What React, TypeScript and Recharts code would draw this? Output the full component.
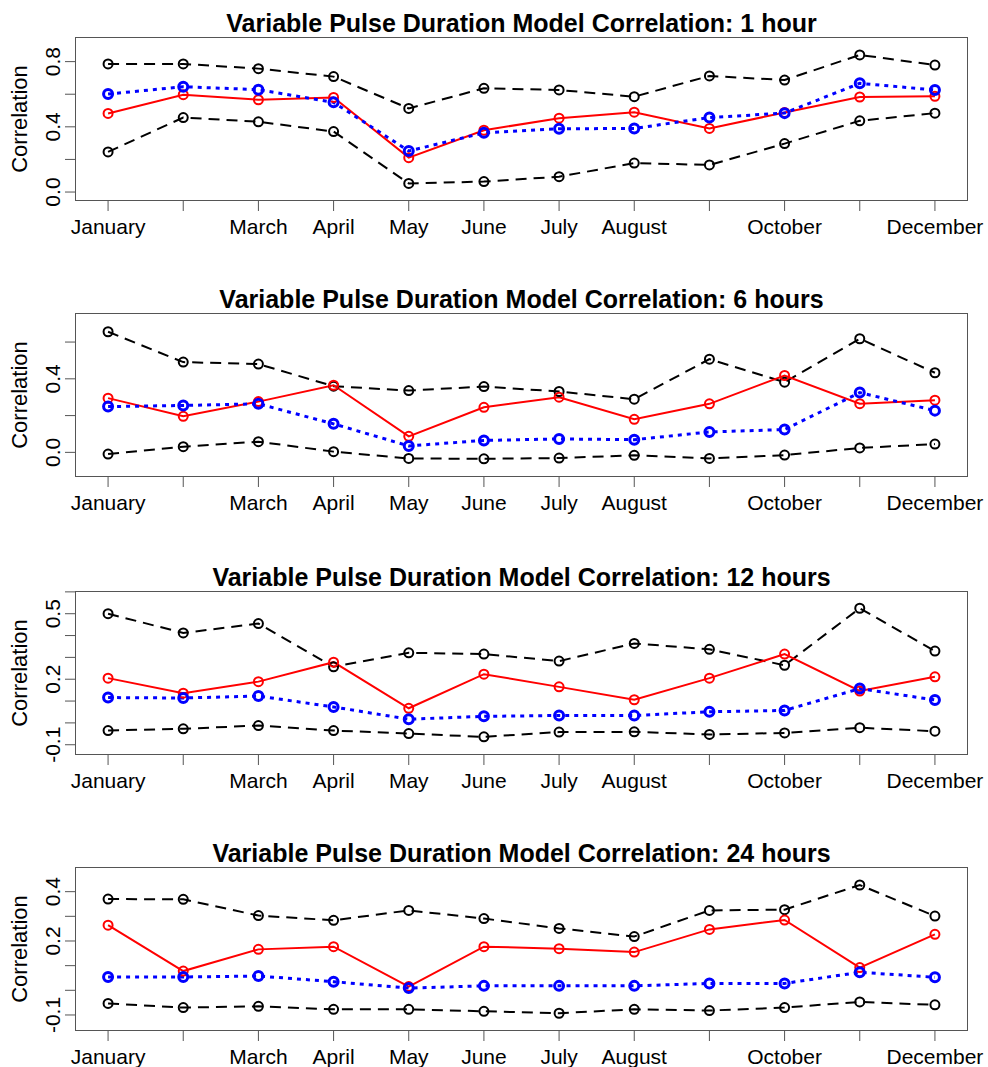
import { LineChart, Line, XAxis, YAxis } from "recharts";

const months = ["January", "February", "March", "April", "May", "June", "July", "August", "September", "October", "November", "December"];
// R drops labels that would overlap
const shownMonths = ["January", "", "March", "April", "May", "June", "July", "August", "", "October", "", "December"];

// 1 hour
const h1Upper = [0.786, 0.786, 0.757, 0.708, 0.513, 0.636, 0.626, 0.585, 0.712, 0.687, 0.841, 0.779];
const h1Lower = [0.246, 0.457, 0.431, 0.371, 0.053, 0.064, 0.094, 0.178, 0.166, 0.297, 0.437, 0.484];
const h1Model = [0.482, 0.597, 0.566, 0.58, 0.211, 0.379, 0.453, 0.49, 0.39, 0.488, 0.583, 0.587];
const h1Mean = [0.601, 0.646, 0.628, 0.55, 0.252, 0.363, 0.388, 0.39, 0.457, 0.484, 0.667, 0.626];

// 6 hours
const h6Upper = [0.656, 0.491, 0.48, 0.36, 0.336, 0.358, 0.331, 0.289, 0.507, 0.382, 0.618, 0.433];
const h6Lower = [-0.009, 0.031, 0.058, 0.004, -0.033, -0.035, -0.031, -0.016, -0.033, -0.015, 0.024, 0.045];
const h6Model = [0.295, 0.196, 0.276, 0.365, 0.087, 0.245, 0.3, 0.18, 0.264, 0.418, 0.265, 0.284];
const h6Mean = [0.249, 0.255, 0.264, 0.155, 0.035, 0.065, 0.073, 0.069, 0.111, 0.124, 0.325, 0.227];

// 12 hours
const h12Upper = [0.5, 0.412, 0.455, 0.257, 0.321, 0.315, 0.283, 0.364, 0.337, 0.264, 0.525, 0.329];
const h12Lower = [-0.035, -0.027, -0.012, -0.035, -0.049, -0.064, -0.042, -0.041, -0.053, -0.046, -0.022, -0.038];
const h12Model = [0.205, 0.136, 0.189, 0.278, 0.067, 0.223, 0.165, 0.106, 0.205, 0.315, 0.146, 0.211];
const h12Mean = [0.116, 0.114, 0.123, 0.073, 0.017, 0.03, 0.034, 0.034, 0.051, 0.057, 0.157, 0.105];

// 24 hours
const h24Upper = [0.37, 0.369, 0.303, 0.284, 0.324, 0.291, 0.251, 0.218, 0.324, 0.327, 0.427, 0.301];
const h24Lower = [-0.053, -0.07, -0.065, -0.077, -0.077, -0.085, -0.093, -0.077, -0.082, -0.07, -0.047, -0.059];
const h24Model = [0.264, 0.078, 0.166, 0.177, 0.015, 0.177, 0.169, 0.155, 0.247, 0.285, 0.092, 0.227];
const h24Mean = [0.054, 0.054, 0.058, 0.035, 0.009, 0.018, 0.018, 0.018, 0.028, 0.028, 0.073, 0.053];

const monthTicks = months.map((_, i) => i + 1);

const FONT = '"Liberation Sans", Arial, Helvetica, sans-serif';
const BOX_LEFT = 75;
const BOX_RIGHT = 968;
const BOX_H = 164;
const TOP_PAD = 37;

interface PanelProps {
  title: string;
  top: number;
  upper: number[];
  lower: number[];
  model: number[];
  mean: number[];
  domain: [number, number];
  ticks: number[];
  labeled: number[];
}

function Panel({ title, top, upper, lower, model, mean, domain, ticks, labeled }: PanelProps) {
  const data = months.map((_, i) => ({
    m: i + 1,
    upper: upper[i],
    lower: lower[i],
    model: model[i],
    mean: mean[i],
  }));

  const YTick = ({ y, payload }: any) => {
    const v = payload.value as number;
    if (!labeled.some((l) => Math.abs(l - v) < 1e-6)) return null;
    return (
      <text
        transform={`translate(60, ${y}) rotate(-90)`}
        textAnchor="middle"
        fontSize={21}
        fontFamily={FONT}
        fill="#000"
      >
        {v.toFixed(1)}
      </text>
    );
  };

  return (
    <div style={{ position: "absolute", left: 0, top, width: 988, height: TOP_PAD + BOX_H + 42 }}>
      <div
        style={{
          position: "absolute",
          left: BOX_LEFT,
          width: BOX_RIGHT - BOX_LEFT,
          top: 11,
          textAlign: "center",
          fontFamily: FONT,
          fontWeight: "bold",
          fontSize: 25,
          lineHeight: "25px",
          whiteSpace: "nowrap",
        }}
      >
        {title}
      </div>
      <div
        style={{
          position: "absolute",
          left: 8,
          top: TOP_PAD + BOX_H / 2 - 60,
          width: 24,
          height: 120,
          display: "flex",
          alignItems: "center",
          justifyContent: "center",
        }}
      >
        <div
          style={{
            transform: "rotate(-90deg)",
            fontFamily: FONT,
            fontSize: 22,
            whiteSpace: "nowrap",
          }}
        >
          Correlation
        </div>
      </div>
      <LineChart
        width={988}
        height={TOP_PAD + BOX_H + 42}
        data={data}
        margin={{ top: TOP_PAD, right: 988 - BOX_RIGHT, bottom: 0, left: BOX_LEFT - 45 }}
      >
        <XAxis
          type="number"
          dataKey="m"
          domain={[0.56, 12.44]}
          ticks={monthTicks}
          tickFormatter={(v: number) => shownMonths[v - 1]}
          interval={0}
          allowDataOverflow
          axisLine={false}
          tickLine={{ stroke: "#555", strokeWidth: 1 }}
          tickSize={10}
          tickMargin={8}
          height={42}
          tick={{ fontSize: 21, fontFamily: FONT, fill: "#000" }}
        />
        <YAxis
          type="number"
          domain={domain}
          ticks={ticks}
          interval={0}
          allowDataOverflow
          axisLine={false}
          tickLine={{ stroke: "#555", strokeWidth: 1 }}
          tickSize={10}
          width={45}
          tick={<YTick />}
        />
        <Line
          dataKey="upper"
          type="linear"
          stroke="#000"
          strokeWidth={2}
          strokeDasharray="11 7"
          dot={{ r: 4.5, stroke: "#000", strokeWidth: 2, fill: "none", strokeDasharray: "" }}
          isAnimationActive={false}
        />
        <Line
          dataKey="lower"
          type="linear"
          stroke="#000"
          strokeWidth={2}
          strokeDasharray="11 7"
          dot={{ r: 4.5, stroke: "#000", strokeWidth: 2, fill: "none", strokeDasharray: "" }}
          isAnimationActive={false}
        />
        <Line
          dataKey="model"
          type="linear"
          stroke="#ff0000"
          strokeWidth={2}
          dot={{ r: 4.5, stroke: "#ff0000", strokeWidth: 2, fill: "none" }}
          isAnimationActive={false}
        />
        <Line
          dataKey="mean"
          type="linear"
          stroke="#0000ff"
          strokeWidth={3}
          strokeDasharray="4 5"
          dot={{ r: 4.5, stroke: "#0000ff", strokeWidth: 3, fill: "none", strokeDasharray: "" }}
          isAnimationActive={false}
        />
      </LineChart>
      <div
        style={{
          position: "absolute",
          left: BOX_LEFT,
          top: TOP_PAD,
          width: BOX_RIGHT - BOX_LEFT,
          height: BOX_H,
          border: "1px solid #555",
          boxSizing: "border-box",
          pointerEvents: "none",
        }}
      />
    </div>
  );
}

export default function App() {
  return (
    <div style={{ position: "absolute", left: 0, top: 0, width: 988, height: 1067, background: "#fff", overflow: "hidden" }}>
      <Panel
        title="Variable Pulse Duration Model Correlation: 1 hour"
        top={0}
        upper={h1Upper}
        lower={h1Lower}
        model={h1Model}
        mean={h1Mean}
        domain={[-0.055, 0.951]}
        ticks={[0, 0.2, 0.4, 0.6, 0.8]}
        labeled={[0, 0.4, 0.8]}
      />
      <Panel
        title="Variable Pulse Duration Model Correlation: 6 hours"
        top={276}
        upper={h6Upper}
        lower={h6Lower}
        model={h6Model}
        mean={h6Mean}
        domain={[-0.134, 0.758]}
        ticks={[0, 0.2, 0.4, 0.6]}
        labeled={[0, 0.4]}
      />
      <Panel
        title="Variable Pulse Duration Model Correlation: 12 hours"
        top={554}
        upper={h12Upper}
        lower={h12Lower}
        model={h12Model}
        mean={h12Mean}
        domain={[-0.147, 0.604]}
        ticks={[-0.1, 0, 0.1, 0.2, 0.3, 0.4, 0.5, 0.6]}
        labeled={[-0.1, 0.2, 0.5]}
      />
      <Panel
        title="Variable Pulse Duration Model Correlation: 24 hours"
        top={830}
        upper={h24Upper}
        lower={h24Lower}
        model={h24Model}
        mean={h24Mean}
        domain={[-0.165, 0.5]}
        ticks={[-0.1, 0, 0.1, 0.2, 0.3, 0.4]}
        labeled={[-0.1, 0.2, 0.4]}
      />
    </div>
  );
}
